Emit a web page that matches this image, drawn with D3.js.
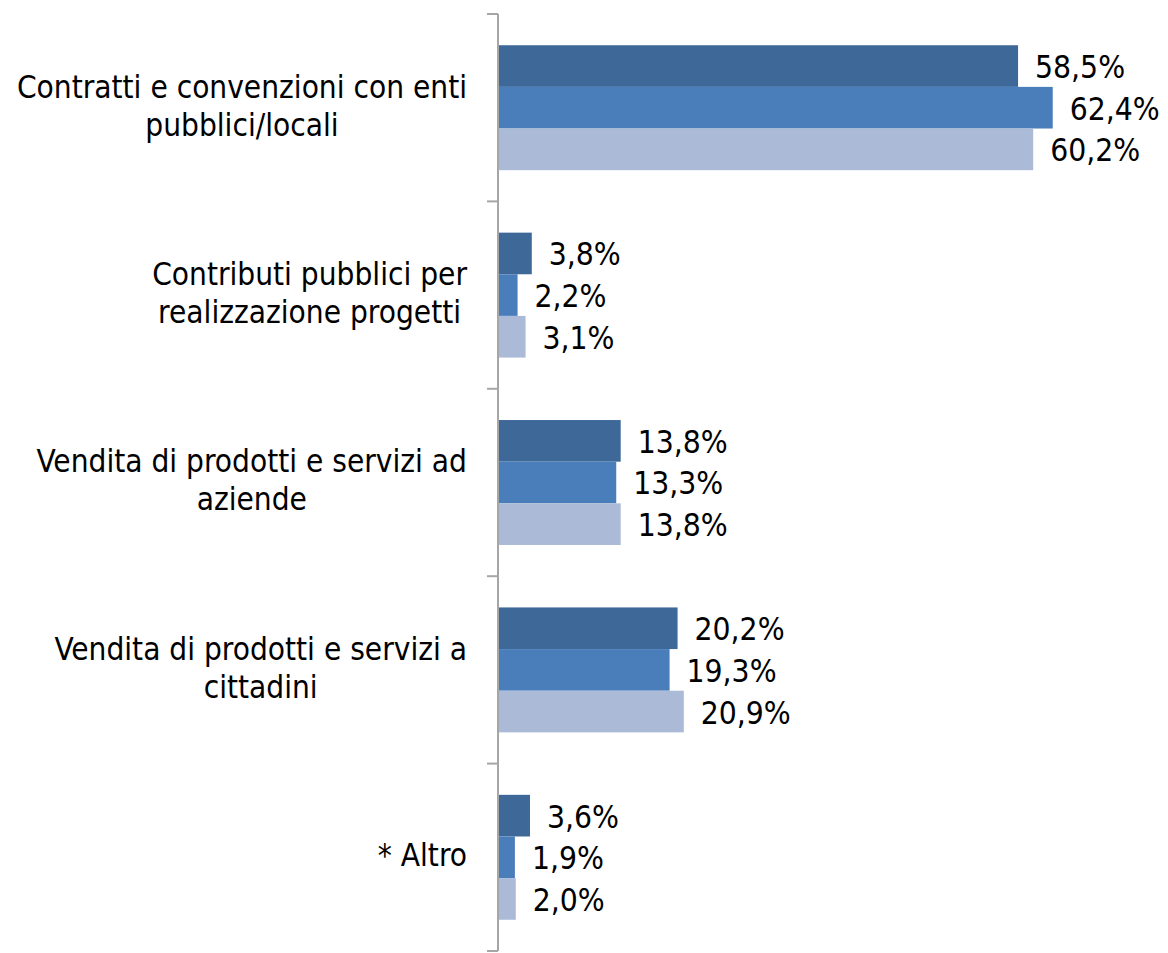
<!DOCTYPE html>
<html>
<head>
<meta charset="utf-8">
<script src="https://cdn.jsdelivr.net/npm/d3@7"></script>
<style>
body { margin: 0; background: #fff; }
text { font-family: "DejaVu Sans Condensed", "DejaVu Sans", sans-serif; fill: #000; }
</style>
</head>
<body>
<svg width="1168" height="953"></svg>
<script>
// categories, one label line per entry
const categories = ["contratti", "contributi", "aziende", "cittadini", "altro"]
const catLines = [
	["Contratti e convenzioni con enti", "pubblici/locali"],
	["Contributi pubblici per", "realizzazione progetti"],
	["Vendita di prodotti e servizi ad", "aziende"],
	["Vendita di prodotti e servizi a", "cittadini"],
	["* Altro"]
]
const series = ["serie1", "serie2", "serie3"]
const serie1 = [58.5, 3.8, 13.8, 20.2, 3.6]
const serie2 = [62.4, 2.2, 13.3, 19.3, 1.9]
const serie3 = [60.2, 3.1, 13.8, 20.9, 2.0]
const colors = ["#3E6898", "#4A7EBB", "#AABAD7"]

const values = [serie1, serie2, serie3]
const data = categories.map((c, i) => ({
	cat: c,
	lines: catLines[i],
	vals: series.map((s, j) => ({ s: s, v: values[j][i] }))
}))

const svg = d3.select("svg")

const axisX = 498

//scales
const y0 = d3.scaleBand()
	.domain(categories)
	.range([14, 951])
	.padding(0)

const y1 = d3.scaleBand()
	.domain(series)
	.range([0, y0.bandwidth()])
	.paddingInner(0)
	.paddingOuter(0.75)

const x = d3.scaleLinear()
	.domain([0, 65])
	.range([axisX, axisX + 65 * 8.89])

const color = d3.scaleOrdinal().domain(series).range(colors)

const fmt = v => d3.format(".1f")(v).replace(".", ",") + "%"

//bars
const groups = svg.selectAll("g.cat")
	.data(data)
	.enter()
	.append("g")
	.attr("class", "cat")
	.attr("transform", d => `translate(0,${y0(d.cat)})`)

groups.selectAll("rect")
	.data(d => d.vals)
	.enter()
	.append("rect")
	.attr("x", x(0))
	.attr("y", d => y1(d.s))
	.attr("width", d => x(d.v) - x(0))
	.attr("height", y1.bandwidth())
	.attr("fill", d => color(d.s))

//value labels
groups.selectAll("text.val")
	.data(d => d.vals)
	.enter()
	.append("text")
	.attr("class", "val")
	.attr("x", d => x(d.v) + 17)
	.attr("y", d => y1(d.s) + y1.bandwidth() / 2 + 1)
	.attr("dominant-baseline", "central")
	.style("font-size", "31.5px")
	.text(d => fmt(d.v))

//axis
const axis = svg.append("g")
	.attr("transform", `translate(${axisX},0)`)
axis.append("line")
	.attr("y1", y0.range()[0])
	.attr("y2", y0.range()[1])
	.attr("stroke", "#A6A6A6")
	.attr("stroke-width", 2)
axis.selectAll("line.tick")
	.data(categories.map(c => y0(c)).concat([y0.range()[1]]))
	.enter()
	.append("line")
	.attr("class", "tick")
	.attr("x1", -11)
	.attr("x2", 0)
	.attr("y1", d => d)
	.attr("y2", d => d)
	.attr("stroke", "#A6A6A6")
	.attr("stroke-width", 2)

//category labels, centred lines, block right aligned
const lineH = 38
groups.each(function (d) {
	const g = d3.select(this)
	const t = g.append("text")
		.attr("text-anchor", "middle")
		.style("font-size", "31.3px")
	const n = d.lines.length
	d.lines.forEach((l, k) => {
		t.append("tspan")
			.attr("x", 0)
			.attr("y", y0.bandwidth() / 2 - 2 + (k - (n - 1) / 2) * lineH)
			.attr("dominant-baseline", "central")
			.text(l)
	})
	const w = d3.max(t.selectAll("tspan").nodes(), n => n.getComputedTextLength())
	t.selectAll("tspan").attr("x", 467 - w / 2)
})
</script>
</body>
</html>
